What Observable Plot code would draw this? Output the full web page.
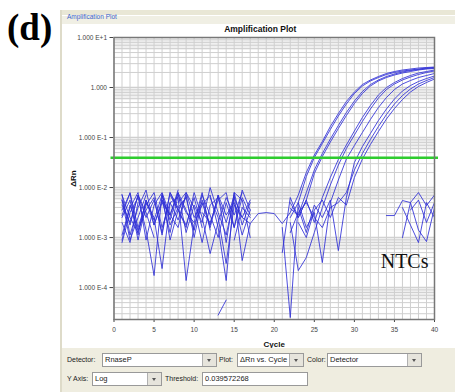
<!DOCTYPE html>
<html><head><meta charset="utf-8">
<script src="https://cdn.jsdelivr.net/npm/d3@7"></script>
<script src="https://cdn.jsdelivr.net/npm/@observablehq/plot@0.6"></script>
<style>
body{margin:0;width:455px;height:392px;overflow:hidden;background:#fff;position:relative;font-family:"Liberation Sans",Arial,sans-serif;}
#chart g[aria-label="x-axis label"] text,#chart g[aria-label="y-axis label"] text{font-weight:bold;font-size:8px;fill:#111;}
.lbl{position:absolute;font-size:7px;color:#222;line-height:14px;white-space:nowrap;}
.box{position:absolute;height:14px;box-sizing:border-box;background:#fff;border:1px solid #999;font-size:7.5px;line-height:12px;padding-left:2px;color:#222;white-space:nowrap;overflow:hidden;}
.btn{position:absolute;top:0;right:0;width:13px;height:12px;background:#e6e4dc;border-left:1px solid #b0b0b0;}
.btn::after{content:"";position:absolute;left:4px;top:5px;border-left:2.5px solid transparent;border-right:2.5px solid transparent;border-top:3px solid #555;}
</style></head>
<body>
<div style="position:absolute;left:7px;top:9px;font:bold 37px/37px 'Liberation Serif',serif;color:#000;">(d)</div>
<div id="panel" style="position:absolute;left:60px;top:10px;width:395px;height:382px;border-left:2px solid #dedbc9;box-sizing:border-box;background:#fff;">
  <div style="position:absolute;left:0;top:0;width:100%;height:5px;background:#e9e7d6;"></div>
  <div style="position:absolute;left:0;top:6px;width:100%;height:8px;background:#f0efe4;"></div>
  <div style="position:absolute;left:5px;top:1px;font-size:6.5px;line-height:12px;color:#3a63c8;">Amplification Plot</div>
  <div style="position:absolute;left:0;top:338px;width:100%;height:44px;background:#efede0;"></div>
</div>
<div id="chart" style="position:absolute;left:60px;top:24px;"></div>
<div class="lbl" style="left:67px;top:353px;">Detector:</div>
<div class="box" style="left:102px;top:353px;width:115px;">RnaseP<div class="btn"></div></div>
<div class="lbl" style="left:219px;top:353px;">Plot:</div>
<div class="box" style="left:237px;top:353px;width:67px;">ΔRn vs. Cycle<div class="btn"></div></div>
<div class="lbl" style="left:307px;top:353px;">Color:</div>
<div class="box" style="left:327px;top:353px;width:95px;">Detector<div class="btn"></div></div>
<div class="lbl" style="left:67px;top:372px;">Y Axis:</div>
<div class="box" style="left:92px;top:372px;width:70px;">Log<div class="btn"></div></div>
<div class="lbl" style="left:165px;top:372px;">Threshold:</div>
<div class="box" style="left:202px;top:372px;width:106px;">0.039572268</div>
<script>
// log10(ΔRn), one value per cycle 1..40 (null = not plotted)
const s1 = [-2.14,-2.95,-2.40,-2.05,-2.75,-2.25,-2.55,-2.10,-2.90,-2.35,-2.70,-2.00,-2.50,-2.95,-2.20,-2.60,-2.72,-2.52,-2.50,-2.52,-2.72,-2.50,-2.15,-1.70,-1.35,-1.08,-0.78,-0.52,-0.28,-0.09,0.06,0.15,0.22,0.28,0.32,0.35,0.37,0.39,0.40,0.41];
const s2 = [-2.60,-2.25,-3.05,-2.35,-2.10,-2.80,-2.30,-2.65,-2.15,-3.00,-2.25,-2.75,-2.15,-3.10,-2.10,-2.25,-3.00,null,null,null,-2.80,-4.60,-2.30,-1.78,-1.40,-1.12,-0.84,-0.57,-0.33,-0.12,0.03,0.13,0.20,0.26,0.30,0.33,0.35,0.37,0.39,0.40];
const s3 = [-3.10,-2.50,-2.20,-2.85,-3.76,-2.12,-2.75,-2.40,-2.20,-2.85,-2.15,-2.55,-3.00,-2.30,-2.80,-2.20,-2.55,null,null,null,null,-2.42,-2.55,-2.10,-1.65,-1.32,-1.03,-0.76,-0.50,-0.27,-0.08,0.06,0.15,0.22,0.27,0.31,0.34,0.36,0.38,0.39];
const s4 = [-2.56,-2.10,-2.80,-2.30,-2.60,-3.62,-2.30,-2.20,-3.86,-2.74,-2.35,-2.15,-2.80,-3.86,-2.10,-2.75,-2.30,null,null,null,-3.30,-2.20,-2.60,-2.25,-1.72,-1.38,-1.09,-0.82,-0.56,-0.32,-0.12,0.03,0.13,0.20,0.25,0.29,0.32,0.35,0.37,0.38];
const s5 = [-2.95,-2.40,-2.10,-3.05,-2.35,-2.10,-2.55,-2.80,-2.10,-2.40,-3.10,-2.35,-2.20,-2.70,-2.15,-3.46,-2.72,null,null,null,null,-2.30,-2.60,-2.25,-2.70,-2.20,-1.80,-1.44,-1.15,-0.87,-0.60,-0.36,-0.15,0.00,0.10,0.18,0.24,0.29,0.32,0.35];
const s6 = [-2.25,-3.05,-2.60,-2.15,null,null,-2.15,-2.45,-2.80,-2.10,-2.60,-3.32,-2.70,-2.20,-2.55,-2.10,null,null,null,null,null,-2.70,-3.66,-3.40,-2.90,-2.40,-1.95,-1.55,-1.22,-0.95,-0.68,-0.43,-0.21,-0.04,0.07,0.15,0.21,0.26,0.30,0.33];
const s7 = [-3.05,-2.35,-2.85,-2.45,-2.20,-2.95,-2.10,-2.45,-2.75,-2.20,-2.80,null,-4.55,-4.25,null,-2.40,-2.60,null,null,null,null,-2.60,-2.30,-2.80,-2.50,-3.50,-2.30,-1.85,-1.43,-1.16,-0.90,-0.64,-0.40,-0.20,-0.04,0.07,0.14,0.20,0.24,0.28];
const s8 = [-2.70,-3.10,-2.30,null,null,-2.25,-2.90,-2.15,-2.50,-2.70,-2.10,-2.85,null,null,-3.05,-2.40,null,null,null,null,null,null,-2.40,-2.90,-2.35,-2.60,-2.25,-3.26,-2.20,-1.50,-1.18,-0.92,-0.66,-0.43,-0.23,-0.07,0.04,0.12,0.18,0.23];
const s9 = [-2.35,-2.70,-2.15,-2.50,-3.00,null,null,-2.30,-2.10,-2.60,-2.30,-2.80,-2.15,-2.55,-2.30,-2.95,-2.45,null,null,null,null,-2.90,-2.50,-2.30,-2.60,-2.80,-2.40,-2.30,-2.10,-1.65,-1.32,-1.04,-0.78,-0.54,-0.33,-0.16,-0.03,0.07,0.14,0.20];
const s10 = [-2.15,-2.60,-2.90,-2.25,-2.65,-2.15,-3.05,-2.45,-2.20,null,null,-2.20,-2.60,-3.52,-2.35,-2.60,-2.25,null,null,null,null,null,-2.70,-3.00,-2.45,-2.25,-2.60,-2.20,-2.35,-1.80,-1.43,-1.14,-0.88,-0.63,-0.42,-0.24,-0.09,0.02,0.10,0.17];
const ntc1 = [-2.25,-2.75,-2.15,-2.60,-2.25,-2.90,-2.10,-2.40,null,null,-2.50,-2.70,-2.25,-2.10,-2.80,-2.05,-2.45,null,null,null,null,null,null,null,null,null,null,null,null,null,null,null,null,-2.56,-2.56,-2.26,-2.30,-2.10,-2.36,-2.15];
const ntc2 = [null,null,null,null,null,-2.15,-2.65,-2.10,-2.45,-2.85,null,null,null,null,null,null,null,null,null,null,null,null,null,null,null,null,null,null,null,null,null,null,null,null,null,-3.00,-2.30,-2.85,-3.08,-2.40];
const ntc3 = [-2.45,-2.12,-2.95,-2.25,-2.75,-2.30,-2.55,-2.05,null,null,null,null,null,null,null,null,null,null,null,null,null,null,null,null,null,null,null,null,null,null,null,null,null,null,null,null,-2.45,-2.25,-2.70,-2.30];
const ntc4 = [null,null,null,null,null,null,null,null,null,null,null,null,null,null,null,null,null,null,null,null,null,null,null,null,null,null,null,null,null,null,null,null,null,null,null,-2.40,-2.75,-3.10,-2.30,-2.60];

const sampleNames = ["s1","s2","s3","s4","s5","s6","s7","s8","s9","s10","ntc1","ntc2","ntc3","ntc4"];
const sampleValues = [s1,s2,s3,s4,s5,s6,s7,s8,s9,s10,ntc1,ntc2,ntc3,ntc4];
const threshold = 0.039572268;
const xTickValues = [0,5,10,15,20,25,30,35,40];
const yTickValues = [10,1,0.1,0.01,0.001,0.0001];
const yTickLabels = ["1.000 E+1","1.000","1.000 E-1","1.000 E-2","1.000 E-3","1.000 E-4"];

const rows = [];
sampleValues.forEach((arr, i) => arr.forEach((v, j) => rows.push({
  sample: sampleNames[i], cycle: j + 1, rn: v == null ? NaN : Math.pow(10, v)
})));

const yDomain = [2.3e-5, 10];
const minorGrid = [];
for (let k = -5; k <= 1; k++) for (let m = 1; m <= 9; m++) {
  const v = m * Math.pow(10, k);
  if (v >= yDomain[0] && v <= yDomain[1]) minorGrid.push(v);
}

const chart = Plot.plot({
  width: 395, height: 324,
  marginLeft: 53.5, marginRight: 21, marginTop: 13, marginBottom: 29,
  style: {background: "transparent", fontFamily: "'Liberation Sans', Arial, sans-serif", fontSize: "6.5px", color: "#444"},
  x: {domain: [0, 40], ticks: xTickValues, tickSize: 3, tickPadding: 5, label: "Cycle", labelAnchor: "center", labelArrow: "none", labelOffset: 27},
  y: {type: "log", domain: yDomain, ticks: yTickValues, tickFormat: d => yTickLabels[yTickValues.indexOf(d)], tickSize: 4, tickPadding: 3, label: "ΔRn", labelAnchor: "center", labelArrow: "none", labelOffset: 44},
  marks: [
    Plot.rect(yTickValues, {y1: d => d * 0.56, y2: d => d * 1.04, fill: "#f0f0f0", clip: true}),
    Plot.ruleY(minorGrid, {stroke: "#cfcfcf", strokeWidth: 1}),
    Plot.ruleX(d3.range(0, 41), {stroke: "#cfcfcf", strokeWidth: 1}),
    Plot.line(rows, {x: "cycle", y: "rn", z: "sample", stroke: "#2f2fd6", strokeWidth: 1, strokeOpacity: 0.85, clip: true}),
    Plot.ruleY([threshold], {stroke: "#2fcc2f", strokeWidth: 2.5, insetLeft: -3, insetRight: -4}),
    Plot.frame({stroke: "#777", strokeWidth: 1.5}),
    Plot.text(["Amplification Plot"], {frameAnchor: "top", dx: -14, dy: -6, lineAnchor: "bottom", fontWeight: "bold", fontSize: 8.5, fill: "#111"}),
    Plot.text(["NTCs"], {frameAnchor: "bottom-right", dx: -6, dy: -57.5, textAnchor: "end", lineAnchor: "middle", fontFamily: "'Liberation Serif', serif", fontSize: 20, fill: "#111"})
  ]
});
document.getElementById("chart").appendChild(chart);
</script>
</body></html>
